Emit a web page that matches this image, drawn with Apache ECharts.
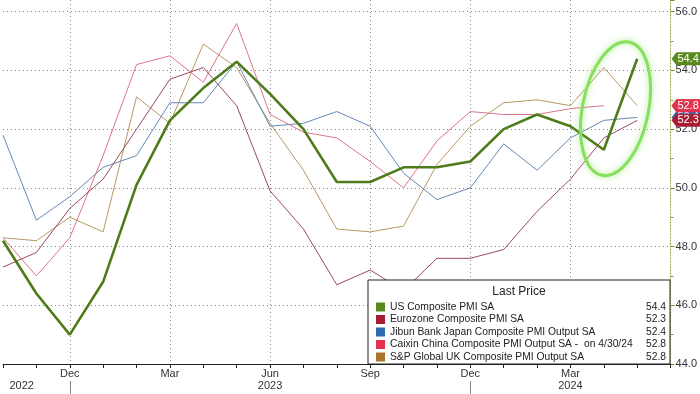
<!DOCTYPE html>
<html><head><meta charset="utf-8">
<script src="https://cdn.jsdelivr.net/npm/echarts@6/dist/echarts.min.js"></script>
<style>html,body{margin:0;padding:0;background:#fff}#c{width:700px;height:394px}</style>
</head><body><div id="c"></div>
<script>
// ---- data ----
const categories = ['2022-10','2022-11','2022-12','2023-01','2023-02','2023-03','2023-04','2023-05','2023-06','2023-07','2023-08','2023-09','2023-10','2023-11','2023-12','2024-01','2024-02','2024-03','2024-04','2024-05','2024-06'];
const tickLabels = {'2022-12':'Dec','2023-03':'Mar','2023-06':'Jun\n2023','2023-09':'Sep','2023-12':'Dec','2024-03':'Mar\n2024'};
const firstYearLabel = '2022';
const yearSeparators = ['2022-12','2023-12'];

const usName = 'US Composite PMI SA';
const ezName = 'Eurozone Composite PMI SA';
const jpName = 'Jibun Bank Japan Composite PMI Output SA';
const cnName = 'Caixin China Composite PMI Output SA -  on 4/30/24';
const ukName = 'S&P Global UK Composite PMI Output SA';

const usValues = [48.2,46.4,45.0,46.8,50.1,52.3,53.4,54.3,53.2,52.0,50.2,50.2,50.7,50.7,50.9,52.0,52.5,52.1,51.3,54.4];
const ezValues = [47.3,47.8,49.3,50.3,52.0,53.7,54.1,52.8,49.9,48.6,46.7,47.2,46.5,47.6,47.6,47.9,49.2,50.3,51.7,52.3];
const jpValues = [51.8,48.9,49.7,50.7,51.1,52.9,52.9,54.3,52.1,52.2,52.6,52.1,50.5,49.6,50.0,51.5,50.6,51.7,52.3,52.4];
const cnValues = [48.3,47.0,48.3,51.1,54.2,54.5,53.6,55.6,52.5,51.9,51.7,50.9,50.0,51.6,52.6,52.5,52.5,52.7,52.8];
const ukValues = [48.3,48.2,49.0,48.5,53.1,52.2,54.9,54.1,52.2,50.6,48.6,48.5,48.7,50.8,52.1,52.9,53.0,52.8,54.1,52.8];

const lastPrices = {};
lastPrices[usName] = 54.4; lastPrices[ezName] = 52.3; lastPrices[jpName] = 52.4; lastPrices[cnName] = 52.8; lastPrices[ukName] = 52.8;

// ---- chart ----
const FONT = 'Liberation Sans';
const LFS = 10.3;
const chart = echarts.init(document.getElementById('c'), null, {renderer:'canvas'});
const endCat = categories[categories.length-1];

function mkSeries(name, data, lineColor, swatch, width, z, badgeZ){
  const last = data[data.length-1];
  return {
    type:'line', name, data, symbol:'none', showSymbol:false, z,
    lineStyle:{width, color:lineColor},
    itemStyle:{color:swatch},
    emphasis:{disabled:true},
    markPoint:{
      silent:true, z:badgeZ,
      symbol:'path://M0,6.5 L5,0 L30,0 L30,13 L5,13 Z',
      symbolSize:[29,13], symbolOffset:[15.5,0], symbolKeepAspect:false,
      itemStyle:{color:swatch},
      label:{show:true, position:'inside', offset:[2,0], color:'#fff', fontSize:11, fontFamily:FONT,
        formatter:()=>lastPrices[name].toFixed(1)},
      data:[{coord:[endCat, last]}]
    }
  };
}

const option = {
  animation:false,
  textStyle:{fontFamily:FONT},
  grid:{left:0, right:29, top:0, bottom:30, containLabel:false},
  xAxis:{
    type:'category', data:categories, boundaryGap:false,
    axisLine:{show:true, lineStyle:{color:'#222', width:1}},
    axisTick:{show:true, interval:0, length:4, lineStyle:{color:'#222'}},
    axisLabel:{interval:0, formatter:v=>tickLabels[v]||'', color:'#333', fontSize:11, margin:4, lineHeight:12, fontFamily:FONT},
    splitLine:{show:true, interval:(i,v)=>!!tickLabels[v], lineStyle:{color:'#8a8a8a', type:[1,3], width:1}}
  },
  yAxis:{
    type:'value', position:'right', min:44, max:56.4, interval:2,
    axisLine:{show:true, lineStyle:{color:'#8e9c3c', type:[1,2]}},
    axisTick:{show:true, length:4, lineStyle:{color:'#6e8e2a'}},
    minorTick:{show:true, splitNumber:2, length:3, lineStyle:{color:'#8e9c3c'}},
    axisLabel:{color:'#333', fontSize:11, margin:5, fontFamily:FONT, showMaxLabel:false,
      formatter:v=> (Math.abs(v%2)<1e-6 ? v.toFixed(1) : '')},
    splitLine:{show:true, showMaxLine:false, lineStyle:{color:'#8a8a8a', type:[1,3], width:1}}
  },
  legend:{
    show:true, orient:'vertical', left:368, top:280, padding:[21.5,4,1.5,8],
    itemWidth:9, itemHeight:9, itemGap:1.5, icon:'rect', selectedMode:false,
    backgroundColor:'#fff', borderColor:'#222', borderWidth:1, z:10,
    data:[usName, ezName, jpName, cnName, ukName],
    formatter:name=>'{n|'+name+'}{v|'+lastPrices[name].toFixed(1)+'}',
    textStyle:{fontSize:LFS, color:'#222', fontFamily:FONT, lineHeight:11,
      rich:{n:{width:250, fontSize:LFS, lineHeight:11, color:'#222', fontFamily:FONT},
            v:{width:26, align:'right', fontSize:LFS, lineHeight:11, color:'#222', fontFamily:FONT}}}
  },
  series:[
    mkSeries(ukName, ukValues, '#b89763', '#a8742a', 1, 2, 5),
    mkSeries(jpName, jpValues, '#6488b2', '#2f6bb0', 1, 3, 6),
    mkSeries(cnName, cnValues, '#dc7488', '#e5334f', 1, 4, 8),
    mkSeries(ezName, ezValues, '#9a4862', '#a81c34', 1, 5, 7),
    mkSeries(usName, usValues, '#4f7c1a', '#5a8a1e', 2.6, 6, 9)
  ]
};
chart.setOption(option);

// annotations positioned through the axes
const px = (cat, val)=>chart.convertToPixel({xAxisIndex:0, yAxisIndex:0}, [cat, val]);
const pA = px('2024-04', 52.8), pB = px('2024-05', 52.8);
const gridBottom = px(categories[0], 44)[1];
const graphics = [
  {type:'text', z:100, x:368 + 151, y:292,
   style:{text:'Last Price', fontSize:12, fontFamily:FONT, fill:'#222', align:'center', verticalAlign:'middle'}},
  {type:'ellipse', z:50, x:(pA[0]+pB[0])/2 - 5, y:pA[1] + 3, rotation:-0.2, silent:true,
   shape:{cx:0, cy:0, rx:33, ry:68},
   style:{fill:null, stroke:'#85e05c', lineWidth:3, shadowBlur:6, shadowColor:'rgba(130,225,90,0.7)'}},
  {type:'text', z:100, x:(px(categories[0],44)[0]+px(categories[1],44)[0])/2 + 2, y:386,
   style:{text:firstYearLabel, fontSize:11, fontFamily:FONT, fill:'#333', align:'center', verticalAlign:'middle'}}
];
yearSeparators.forEach(c=>{
  const x = Math.round(px(c,44)[0]) + 0.5;
  graphics.push({type:'line', z:100, silent:true, shape:{x1:x, y1:gridBottom+17, x2:x, y2:394},
    style:{stroke:'#888', lineWidth:1}});
});
chart.setOption({graphic:graphics});
</script></body></html>
